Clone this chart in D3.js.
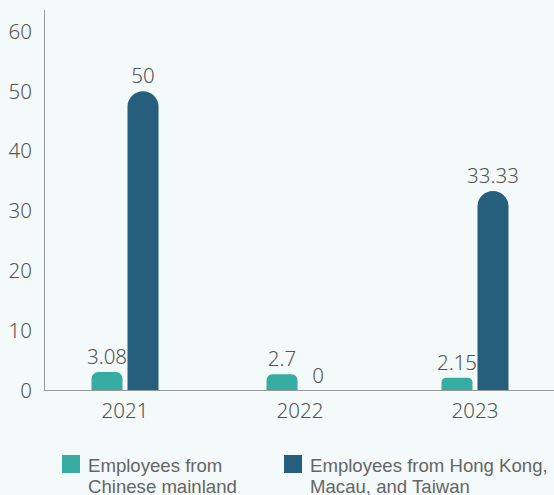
<!DOCTYPE html>
<html>
<head>
<meta charset="utf-8">
<script src="https://cdn.jsdelivr.net/npm/d3@7"></script>
<style>
  html, body { margin: 0; padding: 0; background: #f4f9f9; }
  svg { display: block; }
</style>
</head>
<body>
<div id="chart"></div>
<script>
const years = ["2021", "2022", "2023"];
const seriesNames = ["Employees from Chinese mainland", "Employees from Hong Kong, Macau, and Taiwan"];
const mainland = [3.08, 2.7, 2.15];
const hkMacauTaiwan = [50, 0, 33.33];
const yTicks = [0, 10, 20, 30, 40, 50, 60];
const legendLines = [["Employees from", "Chinese mainland"], ["Employees from Hong Kong,", "Macau, and Taiwan"]];

const width = 554, height = 495;
const colors = ["#37aca2", "#265e7e"];
const textColor = "#555";
const numFont = "350 20.5px 'Noto Sans', sans-serif";

const svg = d3.select("#chart").append("svg")
    .attr("width", width).attr("height", height);

svg.append("rect").attr("width", width).attr("height", height).attr("fill", "#f4f9f9");

const x = d3.scaleBand(years, [37.5, 562.5]);
const y = d3.scaleLinear([0, 60], [390.5, 31.5]);
const barW = 31, gap = 5;

// y axis
svg.append("line")
    .attr("x1", 44.5).attr("x2", 44.5)
    .attr("y1", 10).attr("y2", y(0))
    .attr("stroke", "#999").attr("stroke-width", 1);

svg.append("g").selectAll("text")
  .data(yTicks)
  .join("text")
    .attr("x", 32).attr("y", d => y(d))
    .attr("dy", "0.35em")
    .attr("text-anchor", "end")
    .attr("fill", textColor)
    .style("font", numFont)
    .text(d => d);

// bars
const data = years.map((yr, i) => ({year: yr, vals: [mainland[i], hkMacauTaiwan[i]]}));

function barPath(x0, w, v) {
  const yb = y(0), yt = y(v), h = yb - yt;
  if (h <= 0) return "";
  const r = Math.min(w / 2, h * 0.36);
  return `M${x0},${yb}V${yt + r}A${r},${r} 0 0 1 ${x0 + r},${yt}H${x0 + w - r}A${r},${r} 0 0 1 ${x0 + w},${yt + r}V${yb}Z`;
}

const groups = svg.append("g").selectAll("g")
  .data(data)
  .join("g");

groups.each(function(d) {
  const g = d3.select(this);
  const c = x(d.year) + x.bandwidth() / 2;
  d.vals.forEach((v, j) => {
    const x0 = j === 0 ? c - gap / 2 - barW : c + gap / 2;
    g.append("path").attr("d", barPath(x0, barW, v)).attr("fill", colors[j]);
    g.append("text")
      .attr("x", x0 + barW / 2)
      .attr("y", y(v) - 8)
      .attr("text-anchor", "middle")
      .attr("fill", textColor)
      .style("font", numFont)
      .text(v);
  });
});

// x axis
svg.append("line")
    .attr("x1", 44).attr("x2", width)
    .attr("y1", y(0)).attr("y2", y(0))
    .attr("stroke", "#999").attr("stroke-width", 1);

svg.append("g").selectAll("text")
  .data(years)
  .join("text")
    .attr("x", d => x(d) + x.bandwidth() / 2)
    .attr("y", 418)
    .attr("text-anchor", "middle")
    .attr("fill", textColor)
    .style("font", numFont)
    .text(d => d);

// legend
const legendX = [62, 284];
const legend = svg.append("g").selectAll("g")
  .data(seriesNames)
  .join("g")
    .attr("transform", (d, i) => `translate(${legendX[i]},455)`);

legend.append("rect")
    .attr("width", 18).attr("height", 18)
    .attr("fill", (d, i) => colors[i]);

legend.append("text")
    .attr("x", 26).attr("y", 16.5)
    .attr("fill", "#666")
    .style("font", "18.6px 'Liberation Sans', Arial, sans-serif")
    .selectAll("tspan")
    .data((d, i) => legendLines[i])
    .join("tspan")
      .attr("x", 26)
      .attr("dy", (d, k) => k === 0 ? 0 : 21)
      .text(d => d);
</script>
</body>
</html>
